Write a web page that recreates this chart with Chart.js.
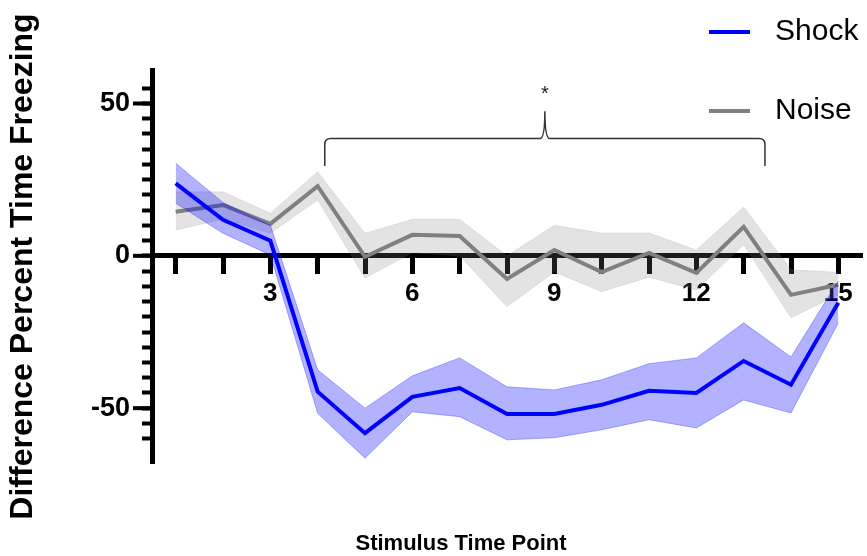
<!DOCTYPE html>
<html>
<head>
<meta charset="utf-8">
<script src="https://cdn.jsdelivr.net/npm/chart.js@4/dist/chart.umd.min.js"></script>
<style>
  html, body { margin: 0; padding: 0; background: #fff; }
  #wrap { width: 867px; height: 556px; }
</style>
</head>
<body>
<div id="wrap"><canvas id="freezeChart" width="867" height="556"></canvas></div>
<script>
// time points and tick labels
const timePoints = [1, 2, 3, 4, 5, 6, 7, 8, 9, 10, 11, 12, 13, 14, 15];
const xTickLabels = [3, 6, 9, 12, 15];
const yTickLabels = [-50, 0, 50];

// shock group: mean and error band
const shockMean  = [23.8, 11.8, 5.0, -44.6, -58.2, -46.3, -43.4, -51.9, -51.9, -48.9, -44.3, -45.0, -34.5, -42.3, -15.4];
const shockUpper = [30.4, 17.5, 10.1, -37.4, -50.0, -39.4, -33.5, -43.0, -44.0, -40.7, -35.4, -33.5, -22.0, -33.2, -8.2];
const shockLower = [17.3, 7.4, 0.3, -51.7, -66.4, -51.2, -52.8, -60.4, -59.7, -57.1, -53.8, -56.5, -47.3, -51.6, -22.0];

// noise group: mean and error band
const noiseMean  = [14.5, 16.7, 10.5, 22.9, -0.3, 6.9, 6.5, -7.6, 1.9, -5.3, 1.0, -5.6, 9.5, -12.8, -9.5];
const noiseUpper = [21.0, 21.0, 14.0, 27.6, 7.4, 12.0, 12.0, 0.0, 10.0, 7.5, 7.5, 1.9, 16.0, -4.6, -5.4];
const noiseLower = [8.5, 12.0, 7.4, 18.3, -7.3, 1.0, 0.0, -16.7, -5.3, -11.8, -7.0, -11.2, 3.6, -20.3, -12.8];

// significance bracket (in data units)
const bracketFrom = 4.15;
const bracketTo = 13.45;

const FONT = "'Liberation Sans', Arial, sans-serif";

function pts(values) {
    return timePoints.map((t, i) => ({ x: t, y: values[i] }));
}

const extras = {
    id: 'extras',
    beforeDatasetsDraw(chart) {
        const { ctx, scales: { y } } = chart;
        // longer ticks at labelled values
        ctx.save();
        ctx.strokeStyle = '#000';
        ctx.lineWidth = 4;
        yTickLabels.forEach(v => {
            const py = y.getPixelForValue(v);
            ctx.beginPath();
            ctx.moveTo(y.right - 19, py);
            ctx.lineTo(y.right - 2, py);
            ctx.stroke();
        });
        ctx.restore();
    },
    afterDraw(chart) {
        const { ctx, scales: { x, y } } = chart;
        ctx.save();

        // bracket with star
        const xl = x.getPixelForValue(bracketFrom);
        const xr = x.getPixelForValue(bracketTo);
        const xm = (xl + xr) / 2;
        const yFoot = y.getPixelForValue(29.5);
        const yBar = y.getPixelForValue(38.5);
        const yTip = y.getPixelForValue(47.5);
        ctx.strokeStyle = '#333';
        ctx.lineWidth = 1.5;
        ctx.beginPath();
        ctx.moveTo(xl, yFoot);
        ctx.lineTo(xl, yBar + 6);
        ctx.quadraticCurveTo(xl, yBar, xl + 6, yBar);
        ctx.lineTo(xm - 5, yBar);
        ctx.quadraticCurveTo(xm, yBar, xm, yTip);
        ctx.quadraticCurveTo(xm, yBar, xm + 5, yBar);
        ctx.lineTo(xr - 6, yBar);
        ctx.quadraticCurveTo(xr, yBar, xr, yBar + 6);
        ctx.lineTo(xr, yFoot);
        ctx.stroke();

        ctx.fillStyle = '#222';
        ctx.font = '20px ' + FONT;
        ctx.textAlign = 'center';
        ctx.textBaseline = 'middle';
        ctx.fillText('*', xm, y.getPixelForValue(53));

        // x axis title
        ctx.fillStyle = '#000';
        ctx.font = 'bold 22px ' + FONT;
        ctx.textBaseline = 'alphabetic';
        ctx.fillText('Stimulus Time Point', 461, 550);

        // legend
        const items = chart.data.datasets.filter(d => d.label);
        ctx.font = '30px ' + FONT;
        ctx.textAlign = 'left';
        ctx.textBaseline = 'middle';
        items.forEach((d, i) => {
            const ly = 32 + i * 79;
            ctx.strokeStyle = d.borderColor;
            ctx.lineWidth = 4;
            ctx.beginPath();
            ctx.moveTo(709, ly);
            ctx.lineTo(750, ly);
            ctx.stroke();
            ctx.fillStyle = '#000';
            ctx.fillText(d.label, 775, ly);
        });
        ctx.restore();
    }
};

new Chart(document.getElementById('freezeChart'), {
    type: 'line',
    data: {
        datasets: [
            { label: 'Shock', data: pts(shockMean), borderColor: '#0000ff', borderWidth: 4, pointRadius: 0, fill: false },
            { data: pts(shockUpper), borderColor: 'rgba(40,40,255,0.35)', borderWidth: 1, pointRadius: 0, fill: false },
            { data: pts(shockLower), borderColor: 'rgba(40,40,255,0.35)', borderWidth: 1, pointRadius: 0, fill: '-1', backgroundColor: 'rgba(0,0,255,0.3)' },
            { label: 'Noise', data: pts(noiseMean), borderColor: '#808080', borderWidth: 4, pointRadius: 0, fill: false },
            { data: pts(noiseUpper), borderColor: 'rgba(128,128,128,0.15)', borderWidth: 1, pointRadius: 0, fill: false },
            { data: pts(noiseLower), borderColor: 'rgba(128,128,128,0.15)', borderWidth: 1, pointRadius: 0, fill: '-1', backgroundColor: 'rgba(128,128,128,0.22)' }
        ]
    },
    options: {
        responsive: false,
        animation: false,
        layout: { padding: { top: 70, right: 5, bottom: 93, left: 0 } },
        plugins: {
            legend: { display: false },
            tooltip: { enabled: false }
        },
        scales: {
            x: {
                type: 'linear',
                min: 0.5,
                max: 15.5,
                position: { y: 0 },
                afterBuildTicks: s => { s.ticks = timePoints.map(v => ({ value: v })); },
                grid: { drawOnChartArea: false, drawTicks: true, tickLength: 16, tickWidth: 5, tickColor: '#000' },
                border: { color: '#000', width: 5 },
                ticks: {
                    autoSkip: false,
                    maxRotation: 0,
                    padding: 6,
                    color: '#000',
                    font: { family: FONT, size: 26, weight: 'bold' },
                    callback: v => xTickLabels.includes(v) ? String(v) : ''
                }
            },
            y: {
                min: -68,
                max: 61,
                position: 'left',
                afterBuildTicks: s => { s.ticks = s.ticks.filter(t => t.value % 5 === 0); },
                afterFit: s => { s.width = 152; },
                grid: { drawOnChartArea: false, drawTicks: true, tickLength: 10, tickWidth: 4, tickColor: '#000' },
                border: { color: '#000', width: 5 },
                ticks: {
                    stepSize: 5,
                    autoSkip: false,
                    padding: 12,
                    color: '#000',
                    font: { family: FONT, size: 27, weight: 'bold' },
                    callback: v => yTickLabels.includes(v) ? String(v) : ''
                },
                title: {
                    display: true,
                    text: 'Difference Percent Time Freezing',
                    color: '#000',
                    font: { family: FONT, size: 32, weight: 'bold' }
                }
            }
        }
    },
    plugins: [extras]
});
</script>
</body>
</html>
